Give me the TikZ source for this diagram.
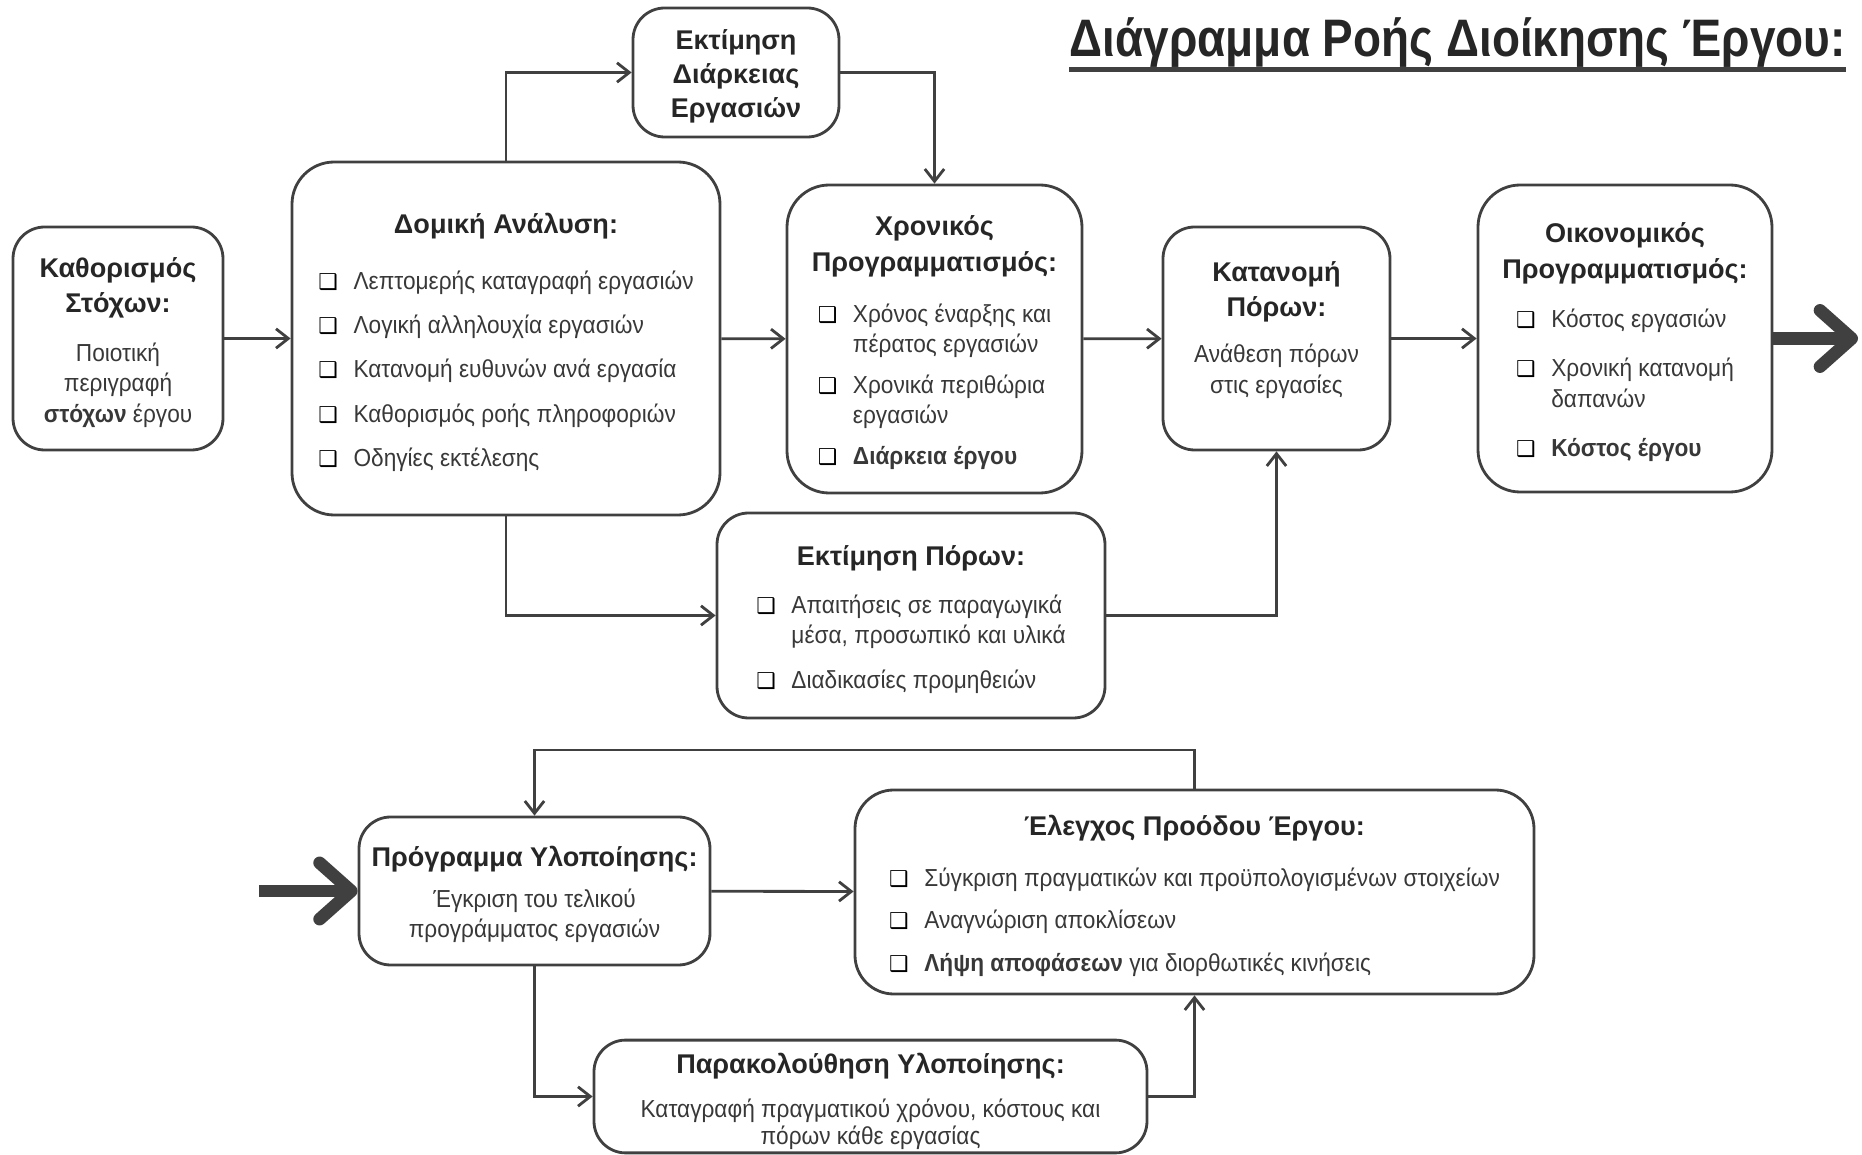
\documentclass[tikz,border=0pt]{standalone}
\usepackage{fontspec}
\setmainfont{Liberation Sans}
\newfontfamily\bodyfnt[FakeStretch=0.92]{Liberation Sans}
\newfontfamily\headfnt[FakeStretch=0.87]{Liberation Sans}
\newfontfamily\symfnt{DejaVu Sans}
\usepackage{array}
\usetikzlibrary{arrows.meta}

\definecolor{lncol}{HTML}{404040}
\definecolor{txcol}{HTML}{262626}
\definecolor{bdcol}{HTML}{383838}

\newcommand{\ttlsize}{\fontsize{7.7}{10}\selectfont\bfseries}
\newcommand{\bodysize}{\normalfont\bodyfnt\fontsize{7}{8.6}\selectfont\color{bdcol}}
\newcommand{\chk}{\makebox[10pt][l]{\symfnt\bfseries\fontsize{6.2}{6}\selectfont\color{black}❑}}
\newcommand{\gap}{\\[4pt]}
\newcommand{\tstrut}{\rule{0pt}{9pt}}
\newenvironment{itemlist}{\bodysize\begin{tabular}{@{}l@{}l@{}}}{\end{tabular}}
\newenvironment{textlist}{\bodysize\begin{tabular}{@{}c@{}}}{\end{tabular}}

\begin{document}
\begin{tikzpicture}[
  x=0.01cm, y=-0.01cm,
  procbox/.style={draw=lncol, line width=0.8pt, rounded corners=9pt,
    align=center, font=\ttlsize, text=txcol, inner sep=2pt},
  sz/.style 2 args={minimum width=#1*0.01cm, minimum height=#2*0.01cm},
  conn/.style={draw=lncol, line width=0.8pt, -{Straight Barb[length=3.5pt,width=5.5pt]}},
  bigarr/.style={draw=lncol, line width=3.6pt, -{Straight Barb[length=9pt,width=16pt,round]}}
]
\useasboundingbox (0,0) rectangle (1862,1155);

% heading
\node[anchor=base west, inner sep=0pt, text=txcol,
  font=\headfnt\fontsize{15}{18}\selectfont\bfseries] (heading) at (1069,57)
  {Διάγραμμα Ροής Διοίκησης Έργου:};
\draw[lncol, line width=1.4pt] ([yshift=-3.5pt]heading.base west) -- ([yshift=-3.5pt]heading.base east);

% planning row
\node[procbox, sz={210}{223}] (goals) at (118,338.5)
  {\tstrut Καθορισμός\\Στόχων:\\[5.3pt]
   {\begin{textlist}Ποιοτική\\περιγραφή\\\textbf{στόχων} έργου\end{textlist}}};
\node[procbox, sz={428}{353}, rounded corners=12pt] (struct) at (506,338.5)
  {\tstrut Δομική Ανάλυση:\\[7.3pt]
   {\begin{itemlist}
    \chk & Λεπτομερής καταγραφή εργασιών\gap
    \chk & Λογική αλληλουχία εργασιών\gap
    \chk & Κατανομή ευθυνών ανά  εργασία\gap
    \chk & Καθορισμός ροής πληροφοριών\gap
    \chk & Οδηγίες εκτέλεσης
   \end{itemlist}}};
\node[procbox, sz={206}{129}, font=\fontsize{7.7}{9.6}\selectfont\bfseries] (durest) at (736,72.5)
  {\rule{0pt}{8pt}Εκτίμηση\\Διάρκειας\\Εργασιών};
\node[procbox, sz={295}{308}, rounded corners=12pt] (sched) at (934.5,339)
  {\tstrut Χρονικός\\Προγραμματισμός:\\[6pt]
   {\begin{itemlist}
    \chk & Χρόνος έναρξης και\\ & πέρατος εργασιών\\[3pt]
    \chk & Χρονικά περιθώρια\\ & εργασιών\\[3pt]
    \chk & \textbf{Διάρκεια έργου}
   \end{itemlist}}};
\node[procbox, sz={227}{223}] (alloc) at (1276.5,338.5)
  {\tstrut Κατανομή\\Πόρων:\\[4.6pt]
   {\begin{textlist}Ανάθεση πόρων\\στις εργασίες\end{textlist}}\\[4pt]};
\node[procbox, sz={294}{307}, rounded corners=12pt] (budget) at (1625,338.5)
  {\tstrut Οικονομικός\\Προγραμματισμός:\\[5.4pt]
   {\begin{itemlist}
    \chk & Κόστος εργασιών\\[5.5pt]
    \chk & Χρονική κατανομή\\ & δαπανών\\[5.5pt]
    \chk & \textbf{Κόστος έργου}
   \end{itemlist}}};
\node[procbox, sz={388}{205}] (resest) at (911,615.5)
  {\tstrut Εκτίμηση Πόρων:\\[5pt]
   {\begin{itemlist}
    \chk & Απαιτήσεις σε παραγωγικά\\ & μέσα, προσωπικό και υλικά\gap
    \chk & Διαδικασίες προμηθειών
   \end{itemlist}}};
\coordinate (outend) at (1858,338.5);

% execution row
\node[procbox, sz={351}{148}] (impl) at (534.5,891)
  {\tstrut Πρόγραμμα Υλοποίησης:\\[3pt]
   {\begin{textlist}Έγκριση του τελικού\\προγράμματος εργασιών\end{textlist}}};
\node[procbox, sz={679}{204}, rounded corners=11pt] (control) at (1194.5,892)
  {\tstrut Έλεγχος Προόδου Έργου:\\[6pt]
   {\begin{itemlist}
    \chk & Σύγκριση πραγματικών και προϋπολογισμένων στοιχείων\\[3.5pt]
    \chk & Αναγνώριση  αποκλίσεων\\[3.5pt]
    \chk & \textbf{Λήψη αποφάσεων} για διορθωτικές κινήσεις
   \end{itemlist}}};
\node[procbox, sz={553}{111}, inner sep=0pt] (monitor) at (870.5,1096.5)
  {\rule{0pt}{9.5pt}Παρακολούθηση Υλοποίησης:\\[4.5pt]
   {\renewcommand{\arraystretch}{0.9}%
    \begin{textlist}Καταγραφή πραγματικού χρόνου, κόστους και\\πόρων κάθε εργασίας\end{textlist}}};
\coordinate (feedin) at (259,891);
\coordinate (loop) at (1194.5,750);

% straight links
\foreach \a/\b in {goals/struct, struct/sched, sched/alloc, alloc/budget, impl/control}
  \draw[conn] (\a) -- (\b);

% bent links
\draw[conn] (struct.north) |- (durest);
\draw[conn] (durest) -| (sched);
\draw[conn] (struct.south) |- (resest);
\draw[conn] (resest) -| (alloc);
\draw[conn] (control.north) -- (loop) -| (impl.north);
\draw[conn] (impl.south) |- (monitor);
\draw[conn] (monitor) -| (control);

% entry and exit
\draw[bigarr] (budget) -- (outend);
\draw[bigarr] (feedin) -- (impl);

\end{tikzpicture}
\end{document}
